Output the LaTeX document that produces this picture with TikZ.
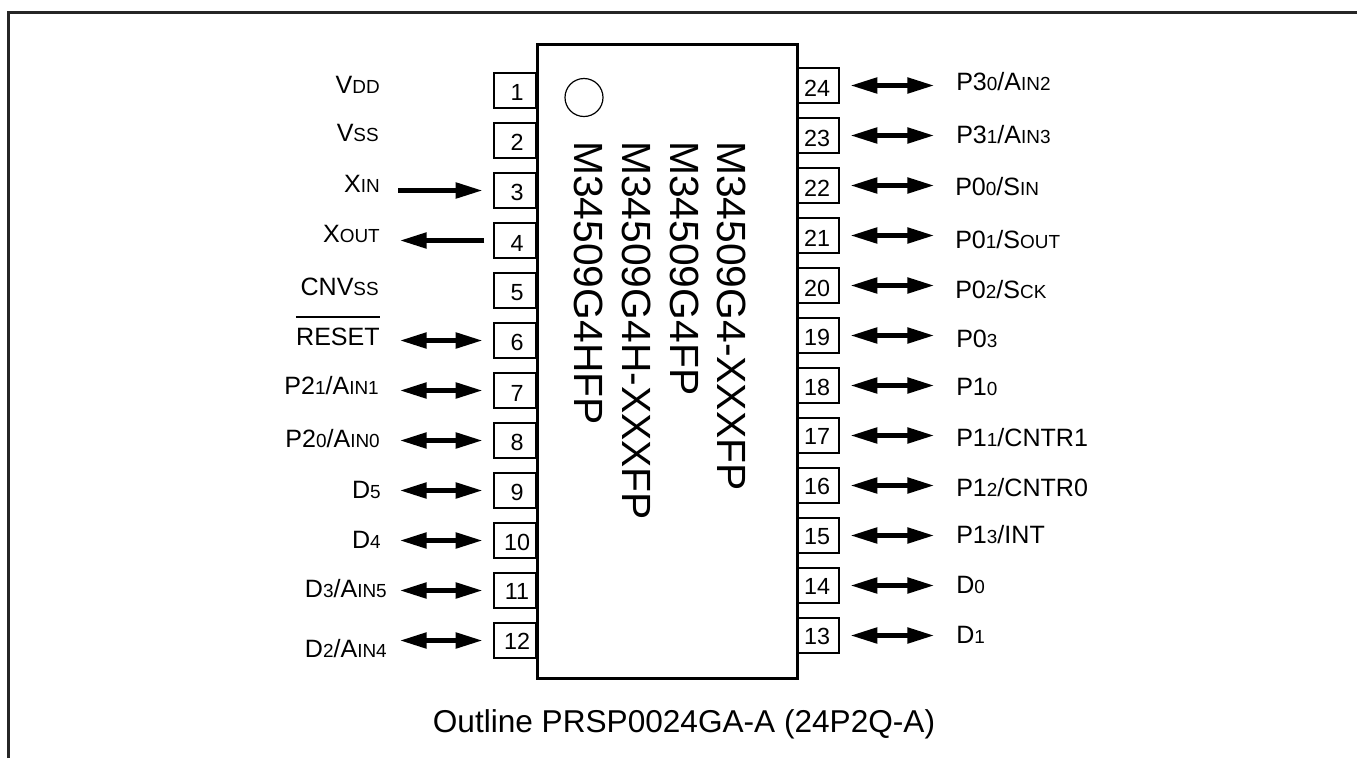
\documentclass[tikz,border=0pt]{standalone}
\usepackage{fontspec}
\setmainfont{Liberation Sans}
\usetikzlibrary{arrows.meta}
\newcommand{\sm}[1]{{\fontsize{14.2}{14.2}\selectfont #1}}
\tikzset{
  pinbox/.style={draw=black,line width=1pt,fill=white,minimum width=31.5pt,minimum height=26.25pt,inner sep=0pt,text depth=0pt,font=\fontsize{17.5}{17.5}\selectfont},
  sig/.style={inner sep=0pt,font=\fontsize{18.8}{18.8}\selectfont},
  sigl/.style={sig,anchor=base east},
  sigr/.style={sig,anchor=base west},
  chipbody/.style={draw=black,line width=2.25pt,fill=white,inner sep=0pt,minimum width=195pt,minimum height=475.5pt},
  partno/.style={rotate=-90,anchor=base west,inner sep=0pt,font=\fontsize{30.6}{30.6}\selectfont},
  headtip/.tip={Triangle[length=20pt,width=11.5pt]},
  dbl/.style={line width=3.2pt,{headtip}-{headtip}},
  one/.style={line width=3.2pt,-{headtip}}
}
\begin{document}
\begin{tikzpicture}[x=0.75pt,y=-0.75pt]
\useasboundingbox (0,0) rectangle (1357,758);
\draw[line width=2.1pt,color=black!85] (8.7,758) -- (8.7,12.3) -- (1357,12.3);
% pins
\foreach \n/\o in {1/2,2/2,3/2,4/2.5,5/2,6/2,7/3,8/2,9/1.7,10/1.3,11/1,12/1}
  \node[pinbox,text height={(12.3+1.5*\o)*1pt}] (p\n) at (515,{90.5+50*(\n-1)}) {\kern3pt\n};
\foreach \n/\o in {13/0.3,14/0.3,15/0.7,16/1,17/1,18/1.3,19/1.7,20/2.7,21/2.7,22/2.7,23/2.7,24/3}
  \node[pinbox,text height={(12.3+1.5*\o)*1pt}] (p\n) at (818,{85.5+50*(24-\n)}) {\n\kern1.5pt};
\node[chipbody] (chip) at (667,361) {};
\node[draw,line width=0.9pt,circle,minimum size=28.5pt,inner sep=0pt] (dot) at (584,97.5) {};
\node[partno] (n1) at (574,141) {M34509G4HFP};
\node[partno] (n2) at (622,141) {M34509G4H-XXXFP};
\node[partno] (n3) at (670,141) {M34509G4FP};
\node[partno] (n4) at (717,141) {M34509G4-XXXFP};
% left labels
\node[sigl] (l1) at (380,93) {V\sm{DD}};
\node[sigl] (l2) at (379,141) {V\sm{SS}};
\node[sigl] (l3) at (380,192) {X\sm{IN}};
\node[sigl] (l4) at (380,242) {X\sm{OUT}};
\node[sigl] (l5) at (379,295) {CNV\sm{SS}};
\node[sigl] (l6) at (380,345) {RESET};
\draw[line width=1pt] (l6.north west |- 0,317) -- (l6.north east |- 0,317);
\node[sigl] (l7) at (379,394) {P2\sm{1}/A\sm{IN1}};
\node[sigl] (l8) at (380,447) {P2\sm{0}/A\sm{IN0}};
\node[sigl] (l9) at (381,498) {D\sm{5}};
\node[sigl] (l10) at (381,548) {D\sm{4}};
\node[sigl] (l11) at (387,597) {D\sm{3}/A\sm{IN5}};
\node[sigl] (l12) at (387,657) {D\sm{2}/A\sm{IN4}};
% right labels
\node[sigr] (l24) at (956,90) {P3\sm{0}/A\sm{IN2}};
\node[sigr] (l23) at (956,143) {P3\sm{1}/A\sm{IN3}};
\node[sigr] (l22) at (955,195) {P0\sm{0}/S\sm{IN}};
\node[sigr] (l21) at (955,248) {P0\sm{1}/S\sm{OUT}};
\node[sigr] (l20) at (955,298) {P0\sm{2}/S\sm{CK}};
\node[sigr] (l19) at (956,347) {P0\sm{3}};
\node[sigr] (l18) at (956,395) {P1\sm{0}};
\node[sigr] (l17) at (956,446) {P1\sm{1}/CNTR1};
\node[sigr] (l16) at (956,496) {P1\sm{2}/CNTR0};
\node[sigr] (l15) at (956,543) {P1\sm{3}/INT};
\node[sigr] (l14) at (956,593) {D\sm{0}};
\node[sigr] (l13) at (956,643) {D\sm{1}};
% connectors, left
\coordinate (a3) at (398,190.5);
\coordinate (a4) at (400,240.5);
\draw[one,shorten >=8.25pt] (a3) -- (p3.west);
\draw[one,shorten <=6.75pt] (p4.west) -- (a4);
\foreach \n in {6,...,12}{
  \coordinate (a\n) at (400,{90.5+50*(\n-1)});
  \draw[dbl,shorten >=8.25pt] (a\n) -- (p\n.west);
}
% connectors, right
\foreach \n in {13,...,24}{
  \coordinate (a\n) at (934,{85.5+50*(24-\n)});
  \draw[dbl,shorten <=8.25pt] (p\n.east) -- (a\n);
}
\node[inner sep=0pt,anchor=base,font=\fontsize{23.7}{23.7}\selectfont] (cap) at (684,732) {Outline PRSP0024GA-A (24P2Q-A)};
\end{tikzpicture}
\end{document}
